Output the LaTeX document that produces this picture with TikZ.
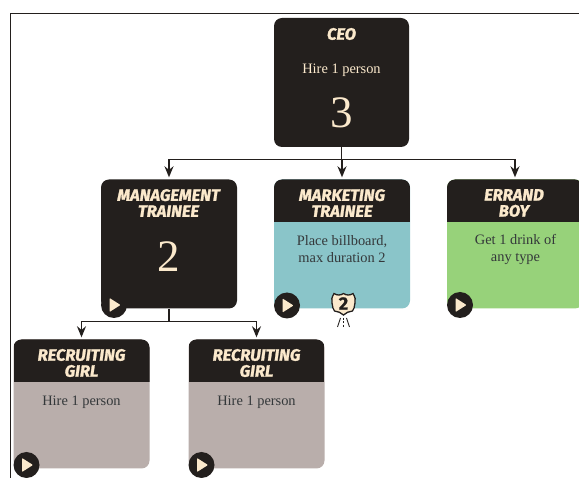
\documentclass[tikz,border=0pt]{standalone}
\usepackage{fontspec}
\setmainfont{Liberation Serif}
\newfontfamily\hdrfont{Fira Sans}[BoldItalicFeatures={FakeBold=1.6},BoldFeatures={FakeBold=1}]
\usetikzlibrary{arrows.meta}
\definecolor{ink}{HTML}{231F1D}
\definecolor{cream}{HTML}{FBE9CC}
\definecolor{teal}{HTML}{8AC5C9}
\definecolor{lime}{HTML}{97D27A}
\definecolor{taupe}{HTML}{B9AEAB}
\definecolor{bodyink}{HTML}{34383A}
\tikzset{
  x=1pt,y=-1pt,
  card/.style={rounded corners=8pt,minimum width=136pt,minimum height=129pt,inner sep=0pt,fill=#1},
  colorcard/.style={card=#1,path picture={\fill[ink,sharp corners] (path picture bounding box.north west) rectangle ([yshift=-43pt]path picture bounding box.north east);}},
  head/.style={text=cream,font=\hdrfont\bfseries\itshape\fontsize{16.5}{16}\selectfont,align=center,inner sep=0pt},
  body/.style={text=bodyink,font=\fontsize{14.4}{17}\selectfont,align=center,inner sep=0pt},
  bodylight/.style={text=cream,font=\fontsize{14.4}{17}\selectfont,align=center,inner sep=0pt},
  bignum/.style={text=cream,font=\fontsize{45}{45}\selectfont,inner sep=0pt},
  link/.style={draw=ink,line width=1.5pt,shorten >=2pt,-{Stealth[length=11pt,width=9pt]}},
  linkplain/.style={draw=ink,line width=1.5pt},
  playdisc/.style={circle,fill=ink,minimum size=26pt,inner sep=0pt},
  frameline/.style={draw=ink,line width=1pt},
}
\begin{document}
\begin{tikzpicture}
\useasboundingbox (0,0) rectangle (579,478);
\clip (0,0) rectangle (579,478);
\fill[white] (0,0) rectangle (579,478);
\coordinate (fa) at (10.5,478);
\coordinate (fb) at (10.5,13.5);
\coordinate (fc) at (579,13.5);
\draw[frameline] (fa) -- (fb) -- (fc);

% cards
\node[card=ink] (ceo) at (341.5,82.5) [minimum width=135pt] {};
\node[card=ink] (mgmt) at (169,244) {};
\node[colorcard=teal] (mkt) at (342,244) {};
\node[colorcard=lime] (errand) at (515,244) {};
\node[colorcard=taupe] (rec1) at (81.5,404) {};
\node[colorcard=taupe] (rec2) at (256.5,404) {};

% connectors
\coordinate (bus) at (341.5,159.5);
\coordinate (bus2) at (169,321.5);
\draw[linkplain] (ceo.south) -- (bus);
\draw[link] (bus) -| (mgmt.north);
\draw[link] (bus) -- (bus -| mkt.north) -- (mkt.north);
\draw[link] (bus) -| (errand.north);
\draw[linkplain] (mgmt.south) -- (bus2);
\draw[link] (bus2) -| (rec1.north);
\draw[link] (bus2) -| (rec2.north);

% texts
\node[head] (t1) at (341.5,34) {CEO};
\node[bodylight] (t2) at (341.5,70) {Hire 1 person};
\node[bignum] (t3) at (341.5,113) {3};
\node[head] (t4) at (168.5,203) {MANAGEMENT\\TRAINEE};
\node[bignum] (t5) at (169,257) {2};
\node[head] (t6) at (342,203) {MARKETING\\TRAINEE};
\node[body] (t7) at (342,249.5) {Place billboard,\\max duration 2};
\node[head] (t8) at (514,203) {ERRAND\\BOY};
\node[body] (t9) at (515.5,249.5) {Get 1 drink of\\any type};
\node[head] (t10) at (81.5,363) {RECRUITING\\GIRL};
\node[body] (t11) at (81.5,402) {Hire 1 person};
\node[head] (t12) at (256.5,363) {RECRUITING\\GIRL};
\node[body] (t13) at (256.5,402) {Hire 1 person};

% play buttons
\foreach \n/\px/\py in {p1/114/305,p2/287/305.5,p3/460/305,p4/26.5/465,p5/201.5/465}{
  \node[playdisc] (\n) at (\px,\py) {};
  \fill[cream,rounded corners=0.8pt] (\px-4.5,\py-7) -- (\px+6.5,\py) -- (\px-4.5,\py+7) -- cycle;
}

% route shield
\draw[ink,line width=1.3pt,fill=cream]
  (334,293.5) .. controls (337,295.5) and (340.5,295.5) .. (343.5,293.5)
  .. controls (346.5,295.5) and (350,295.5) .. (353,293.5)
  .. controls (355,297) and (356,300) .. (355,303)
  .. controls (354,307) and (354.5,309) .. (352.5,311)
  .. controls (349,311.5) and (346,312.5) .. (343.5,315)
  .. controls (341,312.5) and (338,311.5) .. (334.5,311)
  .. controls (332.5,309) and (333,307) .. (332,303)
  .. controls (331,300) and (332,297) .. (334,293.5) -- cycle;
\node[text=ink,font=\hdrfont\bfseries\fontsize{18}{18}\selectfont,inner sep=0pt] (shieldnum) at (343.5,303.5) {2};
\draw[ink,line width=0.8pt] (340.5,318) -- (337.5,327);
\draw[ink,line width=0.8pt] (346.5,318) -- (349.5,327);
\draw[ink,line width=0.8pt,dash pattern=on 2pt off 1.5pt] (343.5,318) -- (343.5,327);
\end{tikzpicture}
\end{document}
